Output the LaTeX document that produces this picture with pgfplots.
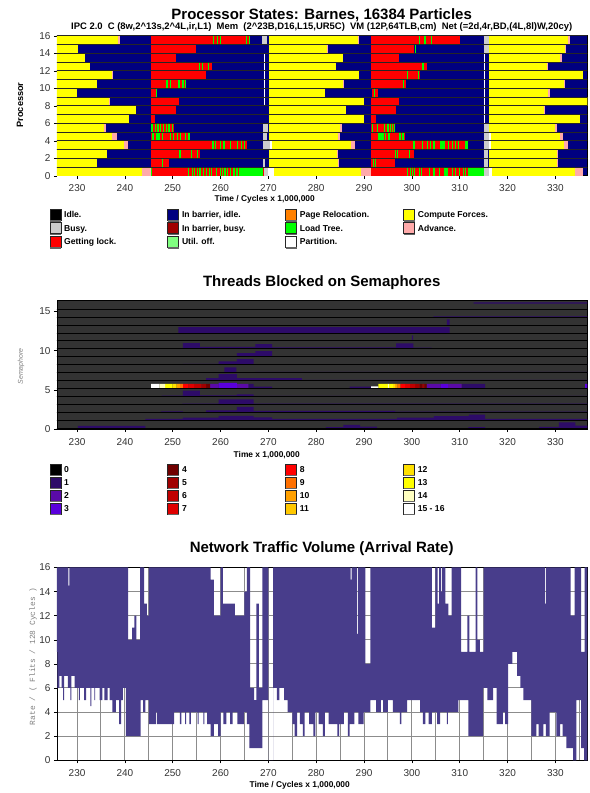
\documentclass[border=0pt]{standalone}
\usepackage{pgfplots}
\pgfplotsset{compat=1.18}
\usepgfplotslibrary{fillbetween}
\usepackage{fontspec}
\setmainfont{Liberation Sans}
\setmonofont{Liberation Mono}
\definecolor{navyc}{HTML}{000080}
\definecolor{yelc}{HTML}{FFFF00}
\definecolor{redc}{HTML}{FF0000}
\definecolor{grnc}{HTML}{00FF00}
\definecolor{pinkc}{HTML}{FFAAAA}
\definecolor{grayc}{HTML}{CCCCCC}
\definecolor{utilc}{HTML}{80FF80}
\definecolor{orgc}{HTML}{FF8000}
\definecolor{bbusyc}{HTML}{A00000}
\definecolor{semabg}{HTML}{333333}
\definecolor{sA}{HTML}{2D0B68}
\definecolor{sB}{HTML}{5A0AA8}
\definecolor{sC}{HTML}{5A00DC}
\definecolor{sD}{HTML}{700000}
\definecolor{sE}{HTML}{A00000}
\definecolor{sF}{HTML}{C00000}
\definecolor{sG}{HTML}{E00000}
\definecolor{sH}{HTML}{FF0000}
\definecolor{sI}{HTML}{FF7000}
\definecolor{sJ}{HTML}{FFA000}
\definecolor{sK}{HTML}{FFC800}
\definecolor{sL}{HTML}{FFE000}
\definecolor{sM}{HTML}{FFFF00}
\definecolor{sN}{HTML}{FFFFC0}
\definecolor{netc}{HTML}{483D8B}
\definecolor{tickc}{HTML}{333333}

\pgfplotsset{
  panel/.style={
    scale only axis, width=531pt,
    xmin=225.8, xmax=336.7,
    xtick={230,240,...,330},
    tick pos=left, tick align=outside,
    major tick length=3pt,
    tick style={black, line width=0.5pt},
    ticklabel style={font=\fontsize{10}{12}\selectfont, text=tickc},
    xticklabel style={yshift=-2.5pt},
    /pgf/number format/assume math mode=true,
    axis line style={black, line width=0.8pt},
    unbounded coords=jump,
  },
  seg/.style={line width=8.76pt},
}

\newcommand\lsq[4]{%
  \filldraw[fill=#3, draw=black!85, line width=0.7pt] (#1,#2-5.5) rectangle (#1+11,#2+5.5);
  \draw[black!60, line width=1.2pt] (#1,#2-6.2) -- (#1+11,#2-6.2);
  \node[anchor=west, inner sep=0pt, text height=6.2pt, text depth=0pt,
        font=\fontsize{8.6}{10}\selectfont\bfseries] at (#1+14,#2) {#4};}

\begin{document}
\begin{tikzpicture}[x=1pt,y=1pt]
\path (0,0) rectangle (590,-793);

% ---------------- titles ----------------
\node[anchor=base, font=\fontsize{15}{18}\selectfont\bfseries] at (322,-19.3) {Processor States: Barnes, 16384 Particles};
\node[anchor=base, font=\fontsize{9.45}{11}\selectfont\bfseries] at (322,-29.5) {IPC 2.0\ \ C (8w,2\textasciicircum 13s,2\textasciicircum 4L,ir,L1)\ \ Mem\ \ (2\textasciicircum 23B,D16,L15,UR5C)\ \ VM (12P,64TLB,cm)\ \ Net (=2d,4r,BD,(4L,8l)W,20cy)};
\node[rotate=90, font=\fontsize{9.2}{11}\selectfont\bfseries] at (20,-105) {Processor};
\node[font=\fontsize{8.4}{10}\selectfont\bfseries] at (265,-200) {Time / Cycles x 1,000,000};

% ---------------- top panel ----------------
\begin{axis}[panel, at={(57pt,-176pt)}, anchor=south west, height=141pt,
  ymin=0, ymax=16.1, ytick={0,2,...,16},
  axis background/.style={fill=navyc}]
% Compute Forces
\addplot[yelc, seg] coordinates {
(225,0.5)(243.5,0.5)(nan,nan)(271.1,0.5)(289.4,0.5)(nan,nan)(316.8,0.5)(334.1,0.5)(nan,nan)
(225,1.5)(234.2,1.5)(nan,nan)(270.1,1.5)(284.5,1.5)(nan,nan)(316.1,1.5)(330.3,1.5)(nan,nan)
(225,2.5)(236.3,2.5)(nan,nan)(270.1,2.5)(284.3,2.5)(nan,nan)(316.1,2.5)(330.3,2.5)(nan,nan)
(225,3.5)(239.8,3.5)(nan,nan)(270.7,3.5)(287.2,3.5)(nan,nan)(316.6,3.5)(331.7,3.5)(nan,nan)
(225,4.5)(237.3,4.5)(nan,nan)(270.1,4.5)(284.5,4.5)(nan,nan)(316.6,4.5)(331.0,4.5)(nan,nan)
(225,5.5)(235.7,5.5)(nan,nan)(270.1,5.5)(285.0,5.5)(nan,nan)(316.1,5.5)(330.0,5.5)(nan,nan)
(225,6.5)(240.8,6.5)(nan,nan)(270.1,6.5)(289.9,6.5)(nan,nan)(316.1,6.5)(335.2,6.5)(nan,nan)
(225,7.5)(242.3,7.5)(nan,nan)(270.1,7.5)(286.3,7.5)(nan,nan)(316.1,7.5)(327.6,7.5)(nan,nan)
(225,8.5)(236.7,8.5)(nan,nan)(270.1,8.5)(289.9,8.5)(nan,nan)(316.1,8.5)(337.0,8.5)(nan,nan)
(225,9.5)(229.9,9.5)(nan,nan)(270.1,9.5)(281.9,9.5)(nan,nan)(316.1,9.5)(328.5,9.5)(nan,nan)
(225,10.5)(234.2,10.5)(nan,nan)(270.1,10.5)(285.6,10.5)(nan,nan)(316.1,10.5)(331.8,10.5)(nan,nan)
(225,11.5)(237.3,11.5)(nan,nan)(270.1,11.5)(289.0,11.5)(nan,nan)(316.1,11.5)(335.8,11.5)(nan,nan)
(225,12.5)(232.8,12.5)(nan,nan)(270.1,12.5)(284.2,12.5)(nan,nan)(316.1,12.5)(328.2,12.5)(nan,nan)
(225,13.5)(231.6,13.5)(nan,nan)(270.1,13.5)(285.7,13.5)(nan,nan)(316.1,13.5)(331.0,13.5)(nan,nan)
(225,14.5)(230.1,14.5)(nan,nan)(270.1,14.5)(282.2,14.5)(nan,nan)(316.1,14.5)(332.0,14.5)(nan,nan)
(225,15.5)(238.6,15.5)(nan,nan)(270.1,15.5)(288.7,15.5)(nan,nan)(316.1,15.5)(332.7,15.5)
};
% Advance
\addplot[pinkc, seg] coordinates {
(243.5,0.5)(245.4,0.5)(nan,nan)(289.4,0.5)(291.5,0.5)(nan,nan)(334.1,0.5)(335.8,0.5)(nan,nan)
(284.5,1.5)(284.8,1.5)(nan,nan)(330.3,1.5)(330.6,1.5)(nan,nan)
(284.3,2.5)(284.6,2.5)(nan,nan)(330.3,2.5)(330.6,2.5)(nan,nan)
(239.8,3.5)(240.7,3.5)(nan,nan)(287.2,3.5)(288.1,3.5)(nan,nan)(331.7,3.5)(332.6,3.5)(nan,nan)
(237.3,4.5)(238.3,4.5)(nan,nan)(284.5,4.5)(285.0,4.5)(nan,nan)(331.0,4.5)(331.5,4.5)(nan,nan)
(235.7,5.5)(236.0,5.5)(nan,nan)(285.0,5.5)(285.3,5.5)(nan,nan)(330.0,5.5)(330.4,5.5)(nan,nan)
(327.6,7.5)(327.9,7.5)(nan,nan)
(236.7,8.5)(236.9,8.5)(nan,nan)
(328.5,9.5)(328.8,9.5)(nan,nan)
(285.6,10.5)(285.9,10.5)(nan,nan)(331.8,10.5)(332.1,10.5)(nan,nan)
(237.3,11.5)(237.5,11.5)(nan,nan)
(328.2,12.5)(328.5,12.5)(nan,nan)
(331.0,13.5)(331.3,13.5)(nan,nan)
(282.2,14.5)(282.5,14.5)(nan,nan)(332.0,14.5)(332.3,14.5)(nan,nan)
(238.6,15.5)(239.0,15.5)(nan,nan)(288.7,15.5)(289.0,15.5)(nan,nan)(332.7,15.5)(333.0,15.5)
};
% Getting lock
\addplot[redc, seg] coordinates {
(245.45,0.5)(269.0,0.5)(nan,nan)(291.5,0.5)(315.0,0.5)(nan,nan)
(245.45,1.5)(249.2,1.5)(nan,nan)(291.5,1.5)(296.4,1.5)(nan,nan)
(245.45,2.5)(255.7,2.5)(nan,nan)(291.5,2.5)(300.5,2.5)(nan,nan)
(245.45,3.5)(265.5,3.5)(nan,nan)(291.5,3.5)(311.8,3.5)(nan,nan)
(245.45,4.5)(253.6,4.5)(nan,nan)(291.5,4.5)(298.6,4.5)(nan,nan)
(245.45,5.5)(250.3,5.5)(nan,nan)(291.5,5.5)(296.4,5.5)(nan,nan)
(245.45,6.5)(246.4,6.5)(nan,nan)(291.5,6.5)(292.5,6.5)(nan,nan)
(245.45,7.5)(250.6,7.5)(nan,nan)(291.5,7.5)(296.7,7.5)(nan,nan)
(245.45,8.5)(251.3,8.5)(nan,nan)(291.5,8.5)(297.2,8.5)(nan,nan)
(245.45,9.5)(246.5,9.5)(nan,nan)(291.6,9.5)(293.0,9.5)(nan,nan)
(245.45,10.5)(252.7,10.5)(nan,nan)(291.5,10.5)(298.7,10.5)(nan,nan)
(245.45,11.5)(256.9,11.5)(nan,nan)(291.5,11.5)(301.7,11.5)(nan,nan)
(245.45,12.5)(258.3,12.5)(nan,nan)(291.5,12.5)(303.1,12.5)(nan,nan)
(245.45,13.5)(250.7,13.5)(nan,nan)(291.5,13.5)(297.4,13.5)(nan,nan)
(245.45,14.5)(254.8,14.5)(nan,nan)(291.5,14.5)(300.5,14.5)(nan,nan)
(245.45,15.5)(266.2,15.5)(nan,nan)(291.5,15.5)(310.1,15.5)
};
% Load Tree
\addplot[grnc, seg] coordinates {
(245.45,0.5)(245.7,0.5)(nan,nan)(253.1,0.5)(253.35,0.5)(nan,nan)(254.0,0.5)(254.25,0.5)(nan,nan)
(254.5,0.5)(254.75,0.5)(nan,nan)(255.0,0.5)(255.25,0.5)(nan,nan)(255.6,0.5)(255.85,0.5)(nan,nan)
(256.3,0.5)(256.55,0.5)(nan,nan)(256.9,0.5)(257.15,0.5)(nan,nan)(257.5,0.5)(257.75,0.5)(nan,nan)
(258.0,0.5)(258.25,0.5)(nan,nan)(259.1,0.5)(259.35,0.5)(nan,nan)(259.8,0.5)(260.05,0.5)(nan,nan)
(260.3,0.5)(260.55,0.5)(nan,nan)(260.8,0.5)(261.05,0.5)(nan,nan)(261.3,0.5)(261.55,0.5)(nan,nan)
(262.0,0.5)(262.25,0.5)(nan,nan)(262.7,0.5)(262.95,0.5)(nan,nan)(263.3,0.5)(263.55,0.5)(nan,nan)
(263.8,0.5)(264.0,0.5)(nan,nan)(264.1,0.5)(268.9,0.5)(nan,nan)
(298.9,0.5)(299.15,0.5)(nan,nan)(299.6,0.5)(299.85,0.5)(nan,nan)(300.0,0.5)(300.25,0.5)(nan,nan)
(300.5,0.5)(300.75,0.5)(nan,nan)(301.5,0.5)(301.75,0.5)(nan,nan)(301.9,0.5)(302.15,0.5)(nan,nan)
(303.5,0.5)(303.75,0.5)(nan,nan)(304.5,0.5)(304.75,0.5)(nan,nan)(305.7,0.5)(305.95,0.5)(nan,nan)
(306.8,0.5)(307.6,0.5)(nan,nan)(308.3,0.5)(308.55,0.5)(nan,nan)(309.0,0.5)(309.25,0.5)(nan,nan)
(309.9,0.5)(310.15,0.5)(nan,nan)(310.6,0.5)(310.85,0.5)(nan,nan)(311.1,0.5)(311.35,0.5)(nan,nan)
(311.8,0.5)(315.0,0.5)(nan,nan)
(247.8,1.5)(248.05,1.5)(nan,nan)(291.8,1.5)(292.05,1.5)(nan,nan)(292.2,1.5)(292.45,1.5)(nan,nan)
(251.4,2.5)(251.65,2.5)(nan,nan)(253.8,2.5)(254.05,2.5)(nan,nan)(255.0,2.5)(255.25,2.5)(nan,nan)
(296.5,2.5)(296.75,2.5)(nan,nan)(296.9,2.5)(297.15,2.5)(nan,nan)(299.3,2.5)(299.55,2.5)(nan,nan)
(258.3,3.5)(258.55,3.5)(nan,nan)(258.9,3.5)(259.15,3.5)(nan,nan)(259.9,3.5)(260.15,3.5)(nan,nan)
(260.6,3.5)(260.85,3.5)(nan,nan)(262.0,3.5)(262.25,3.5)(nan,nan)(263.4,3.5)(263.65,3.5)(nan,nan)
(264.3,3.5)(264.55,3.5)(nan,nan)(264.8,3.5)(265.05,3.5)(nan,nan)
(300.3,3.5)(300.55,3.5)(nan,nan)(302.1,3.5)(302.35,3.5)(nan,nan)(303.1,3.5)(303.35,3.5)(nan,nan)
(303.8,3.5)(304.05,3.5)(nan,nan)(304.5,3.5)(304.75,3.5)(nan,nan)(305.9,3.5)(306.9,3.5)(nan,nan)
(307.6,3.5)(307.85,3.5)(nan,nan)(308.3,3.5)(308.55,3.5)(nan,nan)(309.0,3.5)(309.25,3.5)(nan,nan)
(309.7,3.5)(309.95,3.5)(nan,nan)(311.1,3.5)(311.8,3.5)(nan,nan)
(245.6,4.5)(246.1,4.5)(nan,nan)(246.6,4.5)(247.3,4.5)(nan,nan)(247.7,4.5)(247.95,4.5)(nan,nan)
(249.4,4.5)(249.65,4.5)(nan,nan)(250.1,4.5)(250.35,4.5)(nan,nan)(250.8,4.5)(251.05,4.5)(nan,nan)
(251.5,4.5)(251.75,4.5)(nan,nan)(252.6,4.5)(252.85,4.5)(nan,nan)(253.3,4.5)(253.55,4.5)(nan,nan)
(293.0,4.5)(294.1,4.5)(nan,nan)(294.4,4.5)(294.65,4.5)(nan,nan)(295.1,4.5)(295.35,4.5)(nan,nan)
(297.2,4.5)(297.4,4.5)(nan,nan)(297.5,4.5)(297.7,4.5)(nan,nan)(297.9,4.5)(298.1,4.5)(nan,nan)
(298.2,4.5)(298.4,4.5)(nan,nan)
(245.5,5.5)(245.8,5.5)(nan,nan)(246.3,5.5)(246.55,5.5)(nan,nan)(246.8,5.5)(247.05,5.5)(nan,nan)
(247.3,5.5)(247.55,5.5)(nan,nan)(248.0,5.5)(248.25,5.5)(nan,nan)(248.5,5.5)(248.75,5.5)(nan,nan)
(249.1,5.5)(249.35,5.5)(nan,nan)(249.8,5.5)(250.05,5.5)(nan,nan)
(291.6,5.5)(291.85,5.5)(nan,nan)(292.7,5.5)(292.95,5.5)(nan,nan)(294.1,5.5)(294.35,5.5)(nan,nan)
(294.8,5.5)(295.0,5.5)(nan,nan)(295.1,5.5)(295.3,5.5)(nan,nan)(295.5,5.5)(295.7,5.5)(nan,nan)
(295.8,5.5)(296.0,5.5)(nan,nan)(296.2,5.5)(296.4,5.5)(nan,nan)
(246.5,9.5)(246.8,9.5)(nan,nan)(292.0,9.5)(292.25,9.5)(nan,nan)
(248.7,10.5)(248.95,10.5)(nan,nan)(249.4,10.5)(249.65,10.5)(nan,nan)(251.2,10.5)(251.45,10.5)(nan,nan)
(251.9,10.5)(252.1,10.5)(nan,nan)(252.2,10.5)(252.4,10.5)(nan,nan)(252.5,10.5)(252.7,10.5)(nan,nan)
(298.2,10.5)(298.45,10.5)(nan,nan)
(298.9,11.5)(299.15,11.5)(nan,nan)(301.2,11.5)(301.45,11.5)(nan,nan)
(255.4,12.5)(255.65,12.5)(nan,nan)(256.1,12.5)(256.35,12.5)(nan,nan)(257.3,12.5)(257.55,12.5)(nan,nan)
(302.2,12.5)(302.45,12.5)(nan,nan)
(300.7,14.5)(300.95,14.5)(nan,nan)
(258.4,15.5)(258.65,15.5)(nan,nan)(259.2,15.5)(259.45,15.5)(nan,nan)(259.9,15.5)(260.15,15.5)(nan,nan)
(265.3,15.5)(265.55,15.5)(nan,nan)(266.0,15.5)(266.25,15.5)(nan,nan)
(301.4,15.5)(301.65,15.5)(nan,nan)(302.6,15.5)(302.85,15.5)(nan,nan)(304.0,15.5)(304.25,15.5)
};
% Busy
\addplot[grayc, seg] coordinates {
(269.0,0.5)(269.9,0.5)(nan,nan)(315.0,0.5)(316.1,0.5)(nan,nan)
(268.8,1.5)(269.3,1.5)(nan,nan)(315.0,1.5)(316.0,1.5)(nan,nan)
(315.0,2.5)(316.0,2.5)(nan,nan)
(268.9,3.5)(270.4,3.5)(nan,nan)(315.0,3.5)(316.1,3.5)(nan,nan)
(268.8,4.5)(269.8,4.5)(nan,nan)(315.0,4.5)(316.1,4.5)(nan,nan)
(268.8,5.5)(269.9,5.5)(nan,nan)(315.0,5.5)(316.1,5.5)(nan,nan)
(315.0,14.5)(316.1,14.5)(nan,nan)
(268.7,15.5)(269.7,15.5)(nan,nan)(315.0,15.5)(316.1,15.5)
};
% Partition
\addplot[white, seg] coordinates {
(269.9,0.5)(271.1,0.5)(nan,nan)(316.1,0.5)(316.8,0.5)(nan,nan)
(270.4,3.5)(270.7,3.5)(nan,nan)(316.1,3.5)(316.6,3.5)(nan,nan)(316.1,4.5)(316.6,4.5)(nan,nan)
(269.0,8.5)(269.15,8.5)(nan,nan)(269.0,9.5)(269.15,9.5)(nan,nan)(269.0,10.5)(269.15,10.5)(nan,nan)
(269.0,11.5)(269.15,11.5)(nan,nan)(269.0,12.5)(269.15,12.5)(nan,nan)(269.0,13.5)(269.15,13.5)(nan,nan)
(315.0,6.5)(315.15,6.5)(nan,nan)(315.0,7.5)(315.15,7.5)(nan,nan)(315.0,8.5)(315.15,8.5)(nan,nan)
(315.0,9.5)(315.15,9.5)(nan,nan)(315.0,10.5)(315.15,10.5)(nan,nan)(315.0,11.5)(315.15,11.5)(nan,nan)
(315.0,12.5)(315.15,12.5)(nan,nan)(315.0,13.5)(315.15,13.5)
};
% row separators
\addplot[black!85, line width=0.9pt] coordinates {
(225,1)(337,1)(nan,nan)(225,2)(337,2)(nan,nan)(225,3)(337,3)(nan,nan)(225,4)(337,4)(nan,nan)
(225,5)(337,5)(nan,nan)(225,6)(337,6)(nan,nan)(225,7)(337,7)(nan,nan)(225,8)(337,8)(nan,nan)
(225,9)(337,9)(nan,nan)(225,10)(337,10)(nan,nan)(225,11)(337,11)(nan,nan)(225,12)(337,12)(nan,nan)
(225,13)(337,13)(nan,nan)(225,14)(337,14)(nan,nan)(225,15)(337,15)(nan,nan)(225,16)(337,16)
};
\end{axis}

% legend 1
\lsq{50}{-215}{black}{Idle.}
\lsq{50}{-228.5}{grayc}{Busy.}
\lsq{50}{-242}{redc}{Getting lock.}
\lsq{168}{-215}{navyc}{In barrier, idle.}
\lsq{168}{-228.5}{bbusyc}{In barrier, busy.}
\lsq{168}{-242}{utilc}{Util. off.}
\lsq{286}{-215}{orgc}{Page Relocation.}
\lsq{286}{-228.5}{grnc}{Load Tree.}
\lsq{286}{-242}{white}{Partition.}
\lsq{404}{-215}{yelc}{Compute Forces.}
\lsq{404}{-228.5}{pinkc}{Advance.}

% ---------------- middle panel ----------------
\node[anchor=base, font=\fontsize{15}{18}\selectfont\bfseries] at (322,-286.5) {Threads Blocked on Semaphores};
\node[rotate=90, font=\fontsize{7}{8}\selectfont\itshape, text=black!50] at (21,-366.7) {Semaphore};
\node[font=\fontsize{8.4}{10}\selectfont\bfseries] at (267,-455.5) {Time x 1,000,000};

\begin{axis}[panel, at={(57pt,-429.5pt)}, anchor=south west, height=128.5pt,
  ymin=0, ymax=16.37, ytick={0,5,10,15},
  axis background/.style={fill=semabg}]
\addplot[sA, fill=sA, draw=none] coordinates {
(230.2,0.13)(244.3,0.13)(244.3,0.4)(230.2,0.4)(nan,nan)
(282,0.13)(285.7,0.13)(285.7,0.25)(282,0.25)(nan,nan)
(285.7,0.13)(289.2,0.13)(289.2,0.55)(285.7,0.55)(nan,nan)
(289.2,0.13)(292.7,0.13)(292.7,0.3)(289.2,0.3)(nan,nan)
(311.8,0.13)(315.3,0.13)(315.3,0.25)(311.8,0.25)(nan,nan)
(326.6,0.13)(330.7,0.13)(330.7,0.28)(326.6,0.28)(nan,nan)
(330.7,0.13)(334.2,0.13)(334.2,0.85)(330.7,0.85)(nan,nan)
(334.2,0.13)(336.8,0.13)(336.8,0.45)(334.2,0.45)(nan,nan)
(244.3,1.14)(252.1,1.14)(252.1,1.3)(244.3,1.3)(nan,nan)
(252.1,1.14)(259.6,1.14)(259.6,1.45)(252.1,1.45)(nan,nan)
(259.6,1.14)(266.9,1.14)(266.9,1.7)(259.6,1.7)(nan,nan)
(266.9,1.14)(270.8,1.14)(270.8,1.5)(266.9,1.5)(nan,nan)
(270.8,1.14)(296.9,1.14)(296.9,1.3)(270.8,1.3)(nan,nan)
(296.9,1.14)(304.6,1.14)(304.6,1.45)(296.9,1.45)(nan,nan)
(304.6,1.14)(311.9,1.14)(311.9,1.65)(304.6,1.65)(nan,nan)
(311.9,1.14)(315.3,1.14)(315.3,1.85)(311.9,1.85)(nan,nan)
(315.3,1.14)(336.8,1.14)(336.8,1.3)(315.3,1.3)(nan,nan)
(247.5,2.15)(252.1,2.15)(252.1,2.27)(247.5,2.27)(nan,nan)
(257,2.15)(263.4,2.15)(263.4,2.4)(257,2.4)(nan,nan)
(263.4,2.15)(266.9,2.15)(266.9,2.85)(263.4,2.85)(nan,nan)
(266.9,2.15)(296.5,2.15)(296.5,2.32)(266.9,2.32)(nan,nan)
(296.5,2.15)(336.8,2.15)(336.8,2.23)(296.5,2.23)(nan,nan)
(252,3.16)(259.6,3.16)(259.6,3.26)(252,3.26)(nan,nan)
(259.6,3.16)(266.9,3.16)(266.9,3.8)(259.6,3.8)(nan,nan)
(266.9,3.16)(336.8,3.16)(336.8,3.24)(266.9,3.24)(nan,nan)
(247.7,4.17)(252.1,4.17)(252.1,4.27)(247.7,4.27)(nan,nan)
(252.1,4.17)(255.7,4.17)(255.7,4.9)(252.1,4.9)(nan,nan)
(255.7,4.17)(263.4,4.17)(263.4,4.29)(255.7,4.29)(nan,nan)
(263.4,4.17)(266.9,4.17)(266.9,4.42)(263.4,4.42)(nan,nan)
(266.9,4.17)(336.8,4.17)(336.8,4.25)(266.9,4.25)(nan,nan)
(265.8,5.19)(266.9,5.19)(266.9,5.78)(265.8,5.78)(nan,nan)
(266.9,5.19)(270.8,5.19)(270.8,5.42)(266.9,5.42)(nan,nan)
(287,5.19)(291.5,5.19)(291.5,5.42)(287,5.42)(nan,nan)
(310.4,5.19)(315.3,5.19)(315.3,5.78)(310.4,5.78)(nan,nan)
(257,6.2)(259.6,6.2)(259.6,6.5)(257,6.5)(nan,nan)
(259.6,6.2)(263.4,6.2)(263.4,7.02)(259.6,7.02)(nan,nan)
(263.4,6.2)(277,6.2)(277,6.5)(263.4,6.5)(nan,nan)
(277,6.2)(336.8,6.2)(336.8,6.28)(277,6.28)(nan,nan)
(260.8,7.21)(263.3,7.21)(263.3,7.88)(260.8,7.88)(nan,nan)
(267.3,7.21)(336.8,7.21)(336.8,7.29)(267.3,7.29)(nan,nan)
(252.1,8.22)(259.6,8.22)(259.6,8.32)(252.1,8.32)(nan,nan)
(259.6,8.22)(263.4,8.22)(263.4,8.62)(259.6,8.62)(nan,nan)
(263.4,8.22)(266.9,8.22)(266.9,8.92)(263.4,8.92)(nan,nan)
(266.9,8.22)(336.8,8.22)(336.8,8.3)(266.9,8.3)(nan,nan)
(263.4,9.23)(267.3,9.23)(267.3,9.68)(263.4,9.68)(nan,nan)
(267.3,9.23)(270.8,9.23)(270.8,9.93)(267.3,9.93)(nan,nan)
(270.8,9.23)(336.8,9.23)(336.8,9.31)(270.8,9.31)(nan,nan)
(251.7,10.24)(252.1,10.24)(252.1,10.34)(251.7,10.34)(nan,nan)
(252.1,10.24)(255.7,10.24)(255.7,10.97)(252.1,10.97)(nan,nan)
(255.7,10.24)(267.3,10.24)(267.3,10.48)(255.7,10.48)(nan,nan)
(267.3,10.24)(270.8,10.24)(270.8,10.84)(267.3,10.84)(nan,nan)
(270.8,10.24)(296.7,10.24)(296.7,10.42)(270.8,10.42)(nan,nan)
(296.7,10.24)(300.3,10.24)(300.3,10.92)(296.7,10.92)(nan,nan)
(300.3,10.24)(304.1,10.24)(304.1,10.38)(300.3,10.38)(nan,nan)
(300.0,11.25)(300.25,11.25)(300.25,11.95)(300.0,11.95)(nan,nan)
(251.2,12.26)(307.9,12.26)(307.9,13.0)(251.2,13.0)(nan,nan)
(307.3,13.27)(307.9,13.27)(307.9,14.0)(307.3,14.0)(nan,nan)
(304.5,14.28)(336.8,14.28)(336.8,14.38)(304.5,14.38)(nan,nan)
(312.9,16.0)(336.8,16.0)(336.8,16.17)(312.9,16.17)
};
\addplot[sB, fill=sB, draw=none] coordinates {
(257.8,5.19)(259.6,5.19)(259.6,5.78)(257.8,5.78)(nan,nan)
(263.4,5.19)(265.8,5.19)(265.8,5.78)(263.4,5.78)(nan,nan)
(303.1,5.19)(306.0,5.19)(306.0,5.78)(303.1,5.78)(nan,nan)
(307.5,5.19)(310.4,5.19)(310.4,5.78)(307.5,5.78)
};
\addplot[sC, fill=sC, draw=none] coordinates {
(259.6,5.19)(263.4,5.19)(263.4,5.88)(259.6,5.88)(nan,nan)
(306.0,5.19)(307.5,5.19)(307.5,5.78)(306.0,5.78)(nan,nan)
(336.2,5.19)(336.8,5.19)(336.8,5.78)(336.2,5.78)
};
\addplot[sD, fill=sD, draw=none] coordinates {
(257.0,5.19)(257.8,5.19)(257.8,5.78)(257.0,5.78)(nan,nan)
(301.6,5.19)(302.2,5.19)(302.2,5.78)(301.6,5.78)(nan,nan)
(302.6,5.19)(303.1,5.19)(303.1,5.78)(302.6,5.78)
};
\addplot[sE, fill=sE, draw=none] coordinates {
(256.0,5.19)(257.0,5.19)(257.0,5.78)(256.0,5.78)(nan,nan)
(300.7,5.19)(301.6,5.19)(301.6,5.78)(300.7,5.78)(nan,nan)
(302.2,5.19)(302.6,5.19)(302.6,5.78)(302.2,5.78)
};
\addplot[sF, fill=sF, draw=none] coordinates {
(254.5,5.19)(256.0,5.19)(256.0,5.78)(254.5,5.78)(nan,nan)
(299.6,5.19)(300.7,5.19)(300.7,5.78)(299.6,5.78)
};
\addplot[sG, fill=sG, draw=none] coordinates {
(253.3,5.19)(254.5,5.19)(254.5,5.78)(253.3,5.78)(nan,nan)
(298.6,5.19)(299.6,5.19)(299.6,5.78)(298.6,5.78)
};
\addplot[sH, fill=sH, draw=none] coordinates {
(252.1,5.19)(253.3,5.19)(253.3,5.78)(252.1,5.78)(nan,nan)
(297.6,5.19)(298.6,5.19)(298.6,5.78)(297.6,5.78)
};
\addplot[sI, fill=sI, draw=none] coordinates {
(251.5,5.19)(252.1,5.19)(252.1,5.78)(251.5,5.78)(nan,nan)
(297.0,5.19)(297.6,5.19)(297.6,5.78)(297.0,5.78)
};
\addplot[sJ, fill=sJ, draw=none] coordinates {
(250.8,5.19)(251.5,5.19)(251.5,5.78)(250.8,5.78)(nan,nan)
(296.5,5.19)(297.0,5.19)(297.0,5.78)(296.5,5.78)
};
\addplot[sL, fill=sL, draw=none] coordinates {
(250.0,5.19)(250.8,5.19)(250.8,5.78)(250.0,5.78)(nan,nan)
(296.0,5.19)(296.5,5.19)(296.5,5.78)(296.0,5.78)
};
\addplot[sM, fill=sM, draw=none] coordinates {
(248.4,5.19)(250.0,5.19)(250.0,5.78)(248.4,5.78)(nan,nan)
(293.0,5.19)(295.0,5.19)(295.0,5.78)(293.0,5.78)(nan,nan)
(295.2,5.19)(296.0,5.19)(296.0,5.78)(295.2,5.78)
};
\addplot[sN, fill=sN, draw=none] coordinates {
(247.2,5.19)(248.4,5.19)(248.4,5.78)(247.2,5.78)(nan,nan)
(295.0,5.19)(295.2,5.19)(295.2,5.78)(295.0,5.78)
};
\addplot[white, fill=white, draw=none] coordinates {
(245.5,5.19)(247.2,5.19)(247.2,5.78)(245.5,5.78)(nan,nan)
(291.5,5.19)(293.0,5.19)(293.0,5.45)(291.5,5.45)
};
% semaphore row lines
\addplot[black, line width=0.9pt] coordinates {
(225,0.13)(337,0.13)(nan,nan)(225,1.14)(337,1.14)(nan,nan)(225,2.15)(337,2.15)(nan,nan)
(225,3.16)(337,3.16)(nan,nan)(225,4.17)(337,4.17)(nan,nan)(225,5.19)(337,5.19)(nan,nan)
(225,6.2)(337,6.2)(nan,nan)(225,7.21)(337,7.21)(nan,nan)(225,8.22)(337,8.22)(nan,nan)
(225,9.23)(337,9.23)(nan,nan)(225,10.24)(337,10.24)(nan,nan)(225,11.25)(337,11.25)(nan,nan)
(225,12.26)(337,12.26)(nan,nan)(225,13.27)(337,13.27)(nan,nan)(225,14.28)(337,14.28)(nan,nan)
(225,15.3)(337,15.3)
};
\end{axis}

% legend 2
\lsq{50}{-470}{black}{0}
\lsq{50}{-483}{sA}{1}
\lsq{50}{-496}{sB}{2}
\lsq{50}{-509}{sC}{3}
\lsq{168}{-470}{sD}{4}
\lsq{168}{-483}{sE}{5}
\lsq{168}{-496}{sF}{6}
\lsq{168}{-509}{sG}{7}
\lsq{286}{-470}{sH}{8}
\lsq{286}{-483}{sI}{9}
\lsq{286}{-496}{sJ}{10}
\lsq{286}{-509}{sK}{11}
\lsq{404}{-470}{sL}{12}
\lsq{404}{-483}{sM}{13}
\lsq{404}{-496}{sN}{14}
\lsq{404}{-509}{white}{15 - 16}

% ---------------- bottom panel ----------------
\node[anchor=base, font=\fontsize{15}{18}\selectfont\bfseries] at (322,-553) {Network Traffic Volume (Arrival Rate)};
\node[rotate=90, font=\ttfamily\fontsize{7.9}{9}\selectfont, text=black!50] at (33,-657) {Rate / ( Flits / 128 Cycles )};
\node[font=\fontsize{8.4}{10}\selectfont\bfseries] at (300,-786.5) {Time / Cycles x 1,000,000};

\begin{axis}[panel, at={(57pt,-761pt)}, anchor=south west, height=193pt,
  ymin=0, ymax=16, ytick={0,2,...,16},
  minor xtick={225,235,...,335}, minor tick length=0pt,
  grid=both, grid style={black!45, line width=1pt},
  minor grid style={black!45, line width=1pt}]
\addplot[name path=U, const plot, draw=none] coordinates {
(225.5,16)(228.2,14.5)(228.4,16)(240.7,10)(241.5,11)(242.0,12)(242.4,10)(243.2,16)(244.0,13)(244.6,12)(245.0,16)
(257.9,15)(258.6,12)(260.0,16)(260.5,13)(263.0,12)(265.0,14)(265.5,16)(266.2,6)(267.0,5)
(267.5,13)(268.0,6)(268.75,16)(270.0,0)(271.0,16)(287.2,15)(287.4,16)(288.5,10.5)(288.7,16)
(290.3,8)(291.3,16)(304.2,11)(304.9,16)(305.4,13)(305.7,16)(306.1,14)(306.3,16)
(307.0,13)(307.6,12)(308.3,16)(310.3,9)(311.6,12)(312.0,9)(313.3,16)(313.7,10)(314.2,9)
(315.0,16)(327.8,13)(328.0,16)(333.2,12)(334.0,16)(335.4,9)(336.1,16)(336.8,16)
};
\addplot[name path=L, const plot, draw=none] coordinates {
(225.5,9)(225.9,6)(226.3,7)(226.8,6)(227.1,5)(227.3,7)(228.1,6)(228.6,5)(228.8,7)(229.5,6)
(230.4,5)(230.6,6)(231.5,5)(231.9,6)(232.8,4.5)(233.0,6)(233.6,5)(233.8,6)(234.7,5)(235.3,6)
(235.7,5)(236.4,6)(236.8,5)(237.4,4)(238.1,5)(238.8,3)(239.2,5)(239.6,6)(240.2,2)(243.3,5)
(243.8,4)(244.3,5)(245.0,3)(246.5,4)(246.7,3)(250.3,4)(251.5,3)(251.8,4)(252.6,3)(252.8,4)
(253.5,3)(253.8,4)(255.2,3)(255.4,4)(256.4,3)(256.6,4)(257.2,3)(257.9,2)(258.6,3)(259.5,2)
(260.0,4)(260.6,3)(261.2,4)(262.0,3)(262.5,4)(263.5,3)(264.9,4)(265.5,3)(266.0,1)(268.75,5)
(270.0,0)(271.0,6)(271.8,5)(272.3,6)(273.3,5)(274.0,4)(275.0,3)(275.5,2)(276.0,4)(276.6,3)
(277.2,2)(277.6,4)(278.5,3)(279.4,2)(279.8,4)(280.5,3)(281.4,2)(281.8,4)(282.6,3)(284.4,2)
(284.8,3)(285.8,4)(286.6,2)(287.0,3)(288.0,4)(288.8,3)(289.9,4)(291.3,5)(292.5,4)(293.5,5)
(294.0,4)(295.0,5)(296.0,4)(297.5,3)(297.8,4)(299.0,5)(301.7,4)(302.3,3)(302.8,4)(303.5,3)
(304.2,4)(305.3,3)(305.9,4)(307.3,3)(307.5,4)(309.7,5)(311.8,2)(314.9,6)(315.8,5)(317.0,6)
(317.7,3)(319.0,4)(319.5,3)(320.1,8)(321.0,9)(322.0,7)(322.7,6)(323.3,5)(325.0,2)(326.0,3)
(326.5,2)(327.5,3)(328.0,2)(328.8,4)(330.2,2)(331.0,3)(331.5,2)(332.3,1)(333.7,0)(334.4,5)
(335.4,1)(336.0,0)(336.8,0)
};
\addplot[netc, draw=none] fill between[of=U and L];
\end{axis}
\end{tikzpicture}
\end{document}
